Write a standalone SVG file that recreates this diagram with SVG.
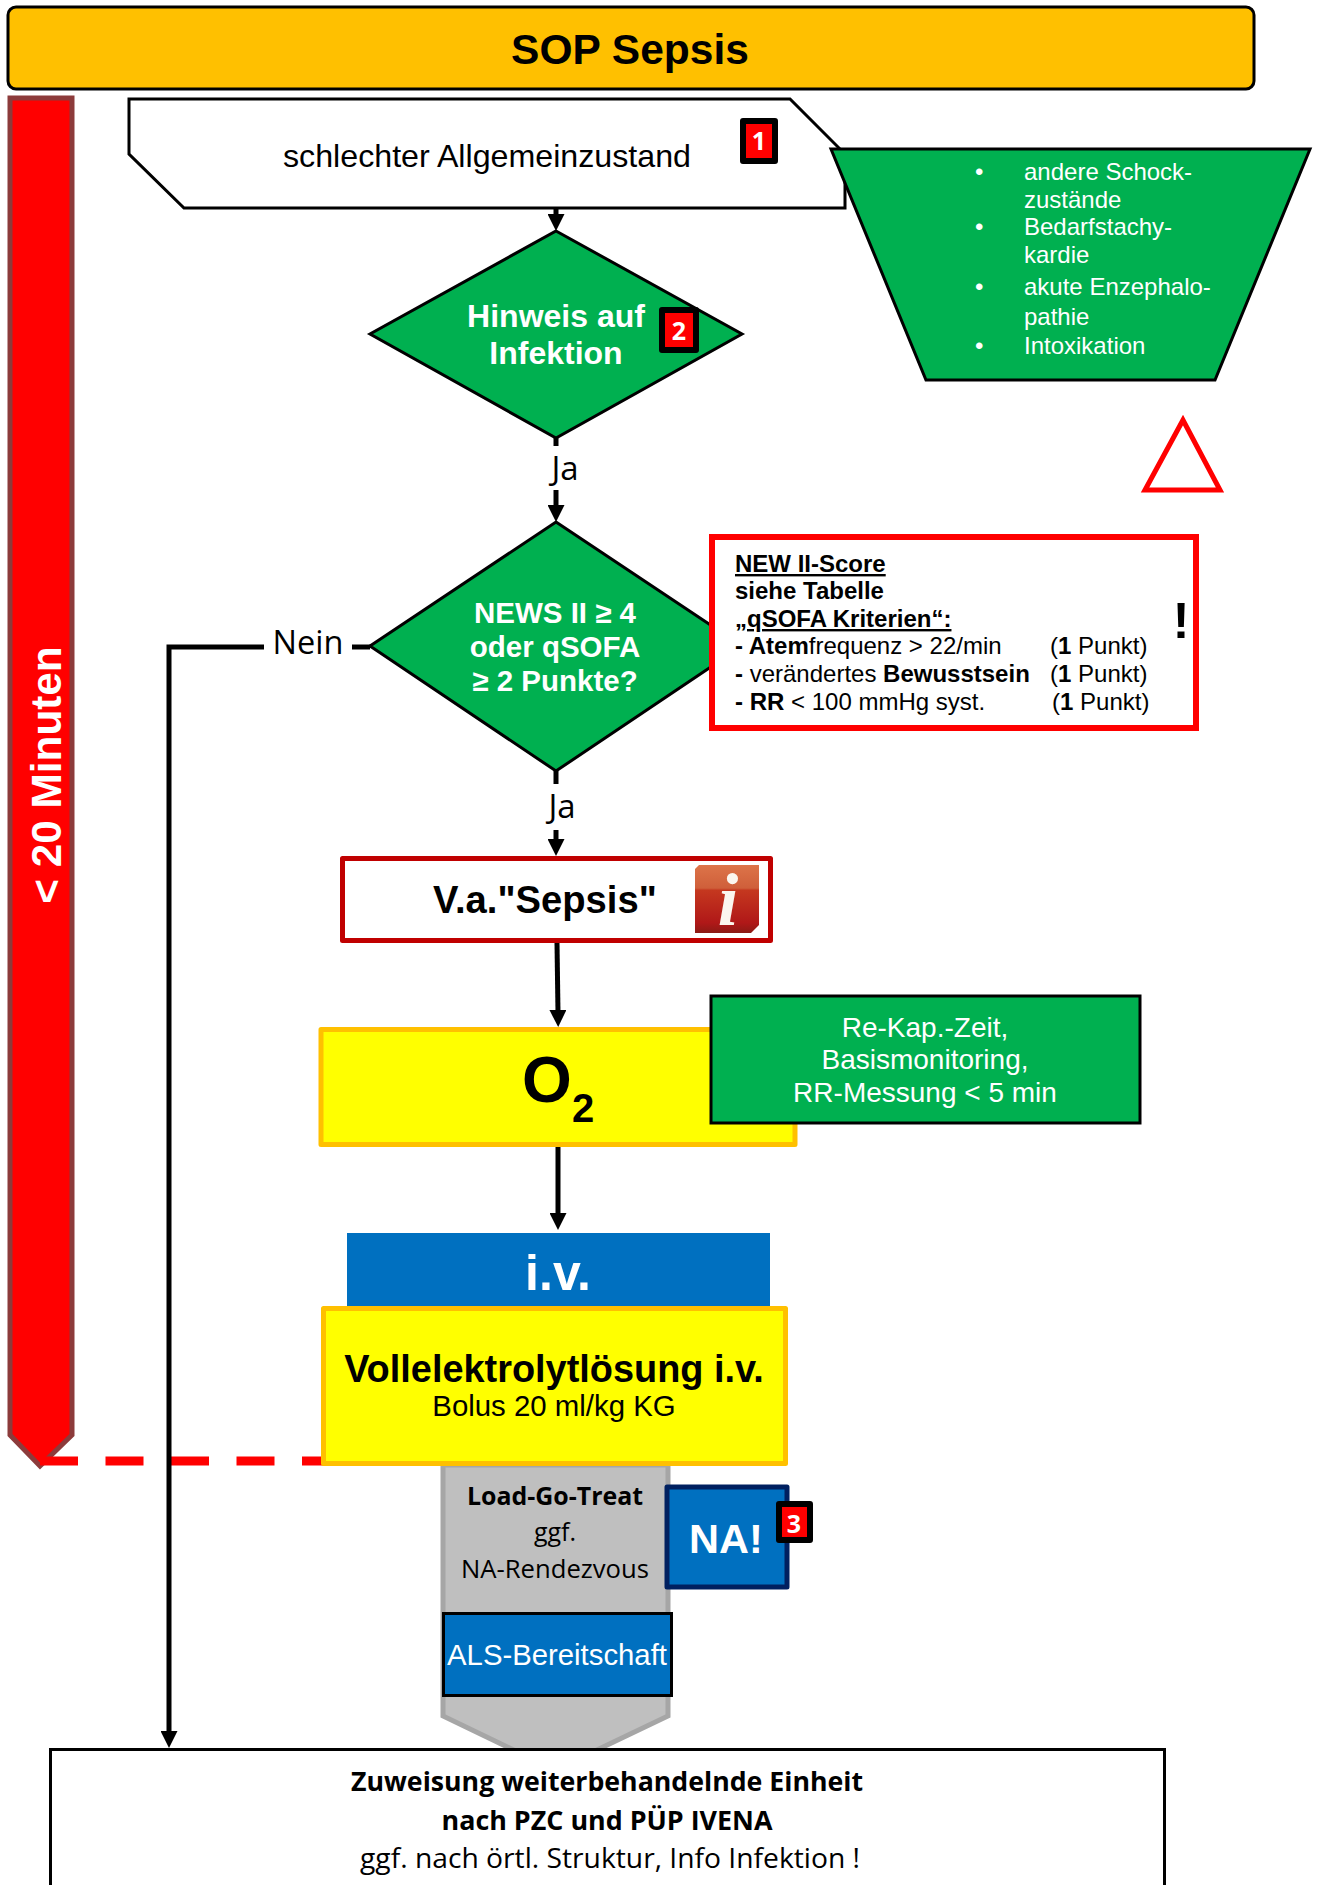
<svg xmlns="http://www.w3.org/2000/svg" width="1319" height="1885" viewBox="0 0 1319 1885">
<style>
text{font-family:"Liberation Sans",Arial,sans-serif;fill:#000}
.w{fill:#fff}.b{font-weight:bold}.m{text-anchor:middle}
.c{font-family:"Open Sans","Noto Sans",sans-serif}
.g{fill:#00b050;stroke:#000;stroke-width:3}
.badge{fill:#f00;stroke:#000;stroke-width:6;stroke-linejoin:round}
.num{font-family:"Open Sans",sans-serif;font-weight:bold;font-size:25px;fill:#fff;text-anchor:middle}
.con{fill:none;stroke:#000;stroke-width:5}
.li{font-size:24px;fill:#fff}
.nw{font-size:24px}
</style>
<defs>
<marker id="ah" markerUnits="userSpaceOnUse" markerWidth="17" markerHeight="17" refX="3" refY="8.5" orient="auto"><path d="M0 0L17 8.500L0 17z" fill="#000"/></marker>
<linearGradient id="ic" x1="0" y1="0" x2="0" y2="1"><stop offset="0" stop-color="#dd7449"/><stop offset=".34" stop-color="#cf5f3a"/><stop offset=".37" stop-color="#c5381f"/><stop offset=".85" stop-color="#b01818"/><stop offset="1" stop-color="#8c1a15"/></linearGradient>
</defs>

<g id="title"><rect x="8" y="7" width="1246" height="82" rx="8" fill="#ffc000" stroke="#000" stroke-width="3"/><text x="630" y="64" class="b m" font-size="42.500">SOP Sepsis</text></g>

<g id="time-arrow"><path d="M10 98H72V1435L40 1466L10 1435Z" fill="#f00" stroke="#8c3b3b" stroke-width="5"/><text transform="translate(61 775) rotate(-90)" class="b m w" font-size="42.300">&lt; 20 Minuten</text></g>

<g id="dashed-limit"><path d="M40 1461H400" fill="none" stroke="#f00" stroke-width="9" stroke-dasharray="38 27.500"/></g>

<g id="start"><path d="M129 99H790L845 154V208H184L129 154Z" fill="#fff" stroke="#000" stroke-width="3"/><text x="487" y="167" class="m" font-size="32.200">schlechter Allgemeinzustand</text><rect x="743" y="121" width="32" height="40" class="badge"/><text x="759" y="150" class="num">1</text></g>

<g id="exclusions"><path d="M831 149H1310L1215 380H926Z" class="g"/>
<text x="975" y="180" class="li">•</text><text x="1024" y="180" class="li">andere Schock-</text><text x="1024" y="208" class="li">zustände</text>
<text x="975" y="235" class="li">•</text><text x="1024" y="235" class="li">Bedarfstachy-</text><text x="1024" y="263" class="li">kardie</text>
<text x="975" y="295" class="li">•</text><text x="1024" y="295" class="li">akute Enzephalo-</text><text x="1024" y="325" class="li">pathie</text>
<text x="975" y="354" class="li">•</text><text x="1024" y="354" class="li">Intoxikation</text></g>

<g id="warning"><path d="M1183 420L1145 490H1220Z" fill="#fff" stroke="#f00" stroke-width="5"/></g>

<g id="d-infektion"><path d="M556 231L742 334L556 438L370 334Z" class="g"/><text x="556" y="327" class="b m w" font-size="32">Hinweis auf</text><text x="556" y="364" class="b m w" font-size="32">Infektion</text><rect x="662" y="310" width="34" height="40" class="badge"/><text x="679" y="340" class="num">2</text></g>

<g id="d-news"><path d="M556 522L742 646L556 771L370 646Z" class="g"/><text x="555" y="623" class="b m w" font-size="29.500">NEWS II ≥ 4</text><text x="555" y="657" class="b m w" font-size="29.500">oder qSOFA</text><text x="555" y="691" class="b m w" font-size="29.500">≥ 2 Punkte?</text></g>

<g id="news-box"><rect x="712" y="537" width="484" height="191" fill="#fff" stroke="#f00" stroke-width="6"/>
<text x="735" y="572" class="b nw" text-decoration="underline">NEW II-Score</text>
<text x="735" y="599" class="b nw">siehe Tabelle</text>
<text x="735" y="627" class="b nw" text-decoration="underline">„qSOFA Kriterien“:</text>
<text x="735" y="654" class="nw"><tspan class="b">- Atem</tspan>frequenz &gt; 22/min</text><text x="1050" y="654" class="nw">(<tspan class="b">1</tspan> Punkt)</text>
<text x="735" y="682" class="nw"><tspan class="b">-</tspan> verändertes <tspan class="b">Bewusstsein</tspan></text><text x="1050" y="682" class="nw">(<tspan class="b">1</tspan> Punkt)</text>
<text x="735" y="710" class="nw"><tspan class="b">- RR</tspan> &lt; 100 mmHg syst.</text><text x="1052" y="710" class="nw">(<tspan class="b">1</tspan> Punkt)</text>
<text x="1181" y="638" class="b m" font-size="50">!</text></g>

<g id="verdacht"><rect x="342.500" y="858.500" width="428" height="82" fill="#fff" stroke="#c00000" stroke-width="5" stroke-linejoin="round"/><text x="433" y="913" class="b" font-size="38.200">V.a."Sepsis"</text>
<path d="M699 865H759V925L751 933H695V869Z" fill="url(#ic)"/><text x="728" y="925" class="m" font-style="italic" font-weight="bold" font-size="74" style="font-family:'Liberation Serif',serif;fill:#fbf6ee">i</text></g>

<g id="o2"><rect x="321" y="1029.500" width="474" height="115" fill="#ff0" stroke="#ffc000" stroke-width="5" stroke-linejoin="round"/><text x="522" y="1102" class="b" font-size="64">O</text><text x="572" y="1122" class="b" font-size="40">2</text></g>

<g id="monitoring"><rect x="711" y="996" width="429" height="127" class="g"/><text x="925" y="1037" class="m w" font-size="28">Re-Kap.-Zeit,</text><text x="925" y="1069" class="m w" font-size="28">Basismonitoring,</text><text x="925" y="1102" class="m w" font-size="28">RR-Messung &lt; 5 min</text></g>

<g id="iv"><rect x="347" y="1233" width="423" height="76" fill="#0070c0"/><text x="558" y="1290" class="b m w" font-size="50">i.v.</text></g>

<g id="load-go"><path d="M443 1465H668V1716L555 1770L443 1716Z" fill="#bfbfbf" stroke="#a6a6a6" stroke-width="5"/>
<text x="555" y="1505" class="c b m" font-size="25" textLength="176" lengthAdjust="spacingAndGlyphs">Load-Go-Treat</text><text x="555" y="1541" class="c m" font-size="25">ggf.</text><text x="555" y="1578" class="c m" font-size="25" textLength="188" lengthAdjust="spacingAndGlyphs">NA-Rendezvous</text></g>

<g id="volle"><rect x="323.500" y="1308.500" width="462" height="155" fill="#ff0" stroke="#ffc000" stroke-width="5" stroke-linejoin="round"/><text x="554" y="1382" class="b m" font-size="37.900">Vollelektrolytlösung i.v.</text><text x="554" y="1416" class="m" font-size="29.400">Bolus 20 ml/kg KG</text></g>

<g id="na"><rect x="667" y="1487" width="120" height="100" fill="#0070c0" stroke="#002060" stroke-width="5" stroke-linejoin="round"/><text x="726" y="1553" class="b m w" font-size="41.500">NA!</text><rect x="779" y="1504" width="31" height="36" class="badge"/><text x="794" y="1533" class="num">3</text></g>

<g id="als"><rect x="443.500" y="1613.500" width="228" height="82" fill="#0070c0" stroke="#000" stroke-width="3"/><text x="557" y="1665" class="m w" font-size="29.300">ALS-Bereitschaft</text></g>

<g id="ziel"><rect x="50.500" y="1749.500" width="1114" height="150" fill="#fff" stroke="#000" stroke-width="3"/>
<text x="607" y="1791" class="c b m" font-size="27" textLength="512" lengthAdjust="spacingAndGlyphs">Zuweisung weiterbehandelnde Einheit</text>
<text x="607" y="1830" class="c b m" font-size="27" textLength="331" lengthAdjust="spacingAndGlyphs">nach PZC und PÜP IVENA</text>
<text x="610" y="1868" class="c m" font-size="27" textLength="500" lengthAdjust="spacingAndGlyphs">ggf. nach örtl. Struktur, Info Infektion !</text></g>

<g id="connectors">
<path d="M556 208V217" class="con" marker-end="url(#ah)"/>
<path d="M556 438V446" class="con"/>
<path d="M556 490V508" class="con" marker-end="url(#ah)"/>
<path d="M556 771V784" class="con"/>
<path d="M556 830V842" class="con" marker-end="url(#ah)"/>
<path d="M557 943L558 1013" class="con" marker-end="url(#ah)"/>
<path d="M558 1147V1216" class="con" marker-end="url(#ah)"/>
<path d="M264 647H169V1734" class="con" marker-end="url(#ah)"/>
<path d="M352 647H370" class="con"/>
<text x="565" y="480" class="c m" font-size="33">Ja</text>
<text x="562" y="818" class="c m" font-size="33">Ja</text>
<text x="308" y="654" class="c m" font-size="32.500">Nein</text>
</g>
</svg>
